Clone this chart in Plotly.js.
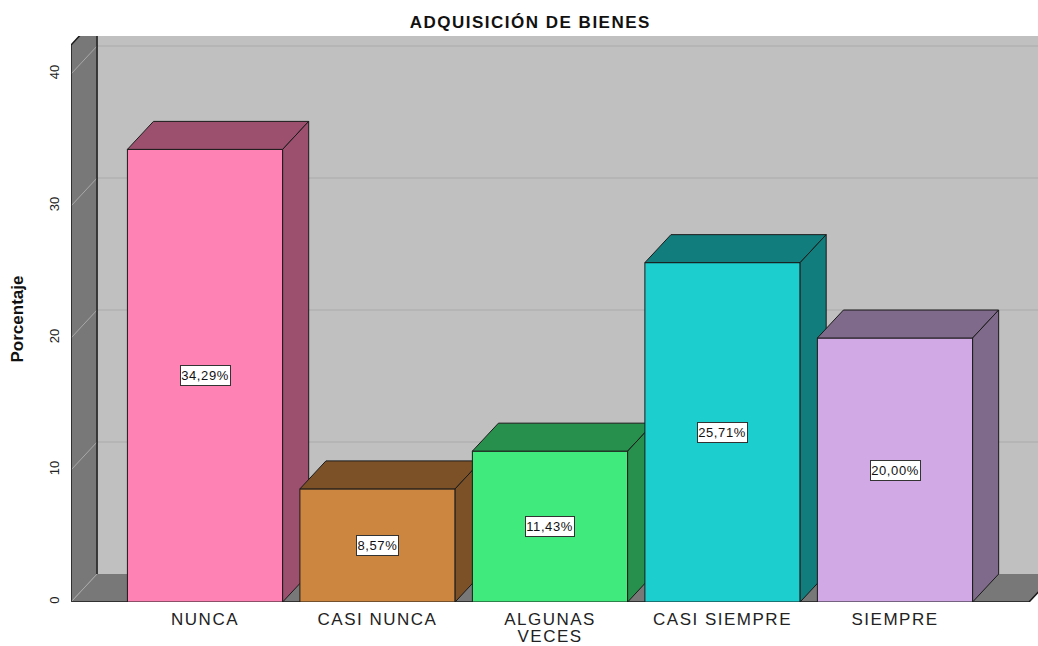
<!DOCTYPE html>
<html>
<head>
<meta charset="utf-8">
<script src="https://cdn.plot.ly/plotly-3.0.1.min.js"></script>
<style>
  html, body { margin: 0; padding: 0; background: #ffffff; }
  #chart { width: 1038px; height: 646px; }
  #chart .xtick text { letter-spacing: 1.5px; }
  #chart .gtitle { letter-spacing: 1.5px; }
  #chart .annotation-text { letter-spacing: 0.6px; }
</style>
</head>
<body>
<div id="chart"></div>
<script>
// ---- data ----
const categories = ['NUNCA', 'CASI NUNCA', 'ALGUNAS<br>VECES', 'CASI SIEMPRE', 'SIEMPRE'];
const percentages = [34.29, 8.57, 11.43, 25.71, 20.00];
const frontColors = ['#FF82B4', '#CD863F', '#41EA7D', '#1CCECE', '#D0A9E5'];
const shadeColors = ['#9C506E', '#7C5128', '#27904C', '#117D7D', '#7F6A8B'];
const yTickValues = [0, 10, 20, 30, 40];

// ---- geometry (axis units) ----
const BAR_W = 0.9;          // bar width in category units
const DX = 0.151;           // depth offset along x
const DY = 2.12;            // depth offset along y
const X_MIN = -0.777, X_MAX = 4.829;
const Y_MAX = 42.88;
const WALL_TOP = 42.2;
const FLOOR_PAD = 0.327;
const floorLeft = X_MIN;
const floorRight = (categories.length - 1) + BAR_W / 2 + FLOOR_PAD;

const traces = [];
function poly(xs, ys, fill) {
  traces.push({
    type: 'scatter', mode: 'lines', fill: 'toself',
    x: xs.concat([xs[0]]), y: ys.concat([ys[0]]),
    fillcolor: fill, line: { color: '#1a1a1a', width: 1 },
    hoverinfo: 'skip', showlegend: false
  });
}
const font = 'Liberation Sans, Arial, sans-serif';
const annotations = [];
percentages.forEach((v, i) => {
  const x0 = i - BAR_W / 2, x1 = i + BAR_W / 2;
  poly([x0, x1, x1, x0], [0, 0, v, v], frontColors[i]);                          // front
  poly([x0, x1, x1 + DX, x0 + DX], [v, v, v + DY, v + DY], shadeColors[i]);      // top
  poly([x1, x1 + DX, x1 + DX, x1], [0, DY, v + DY, v], shadeColors[i]);          // side
  annotations.push({
    x: i, y: v / 2, xref: 'x', yref: 'y',
    text: v.toFixed(2).replace('.', ',') + '%',
    showarrow: false, bgcolor: '#ffffff', bordercolor: '#333333',
    borderwidth: 1, borderpad: 2,
    font: { family: font, size: 13, color: '#111111' }
  });
});

// ---- walls / floor / grid as shapes ----
const shapes = [];
shapes.push({ type: 'rect', xref: 'x', yref: 'y', layer: 'below',
  x0: X_MIN + DX, x1: X_MAX + 1, y0: DY, y1: Y_MAX + 5,
  fillcolor: '#C0C0C0', line: { width: 0 } });
yTickValues.slice(1).forEach(v => {
  shapes.push({ type: 'line', xref: 'x', yref: 'y', layer: 'below',
    x0: X_MIN + DX, x1: X_MAX + 1, y0: v + DY, y1: v + DY,
    line: { color: '#B2B2B2', width: 1.5 } });
});
shapes.push({ type: 'path', xref: 'x', yref: 'y', layer: 'below',
  path: `M ${floorLeft} 0 L ${floorRight} 0 L ${floorRight + DX} ${DY} L ${floorLeft + DX} ${DY} Z`,
  fillcolor: '#787878', line: { width: 0 } });
shapes.push({ type: 'path', xref: 'x', yref: 'y', layer: 'below',
  path: `M ${floorLeft} 0 L ${floorRight} 0 L ${floorRight + DX} ${DY}`,
  line: { color: '#1a1a1a', width: 1.5 } });
shapes.push({ type: 'path', xref: 'x', yref: 'y', layer: 'below',
  path: `M ${X_MIN} 0 L ${X_MIN} ${WALL_TOP} L ${X_MIN + DX} ${WALL_TOP + DY} L ${X_MIN + DX} ${DY} Z`,
  fillcolor: '#787878', line: { width: 0 } });
yTickValues.forEach(v => {
  shapes.push({ type: 'line', xref: 'x', yref: 'y', layer: 'below',
    x0: X_MIN, x1: X_MIN + DX, y0: v, y1: v + DY,
    line: { color: '#A8A8A8', width: 1 } });
});
shapes.push({ type: 'path', xref: 'x', yref: 'y', layer: 'below',
  path: `M ${X_MIN} 0 L ${X_MIN} ${WALL_TOP} L ${X_MIN + DX} ${WALL_TOP + DY}`,
  line: { color: '#1a1a1a', width: 1.5 } });
shapes.push({ type: 'line', xref: 'x', yref: 'y', layer: 'below',
  x0: X_MIN + DX, x1: X_MIN + DX, y0: DY, y1: Y_MAX + 5,
  line: { color: '#1a1a1a', width: 1.5 } });

const layout = {
  width: 1038, height: 646,
  margin: { l: 71, r: 0, t: 36, b: 44 },
  paper_bgcolor: '#ffffff', plot_bgcolor: '#ffffff',
  showlegend: false,
  title: {
    text: '<b>ADQUISICIÓN DE BIENES</b>',
    font: { family: font, size: 17, color: '#111111' },
    xref: 'paper', x: 0.475, xanchor: 'center',
    yref: 'container', y: 1 - 22 / 646, yanchor: 'middle'
  },
  xaxis: {
    range: [X_MIN, X_MAX], showgrid: false, zeroline: false, showline: false,
    tickmode: 'array', tickvals: categories.map((c, i) => i), ticktext: categories,
    ticks: '', ticklabelstandoff: 5,
    tickfont: { family: font, size: 17, color: '#222222' },
    fixedrange: true
  },
  yaxis: {
    range: [0, Y_MAX], showgrid: false, zeroline: false, showline: false,
    tickmode: 'array', tickvals: yTickValues, ticktext: yTickValues.map(String),
    ticks: '', tickangle: -90, ticklabelstandoff: 8,
    tickfont: { family: font, size: 13, color: '#222222' },
    title: { text: '<b>Porcentaje</b>', font: { family: font, size: 17, color: '#111111' }, standoff: 19 },
    fixedrange: true
  },
  shapes: shapes,
  annotations: annotations
};

Plotly.newPlot('chart', traces, layout, { displayModeBar: false, staticPlot: true }).then(gd => {
  // tighten the line spacing of the two-line category label
  gd.querySelectorAll('.xtick text').forEach(t => {
    const lines = t.querySelectorAll('tspan.line');
    for (let k = 1; k < lines.length; k++) lines[k].setAttribute('dy', '1.0em');
  });
});
</script>
</body>
</html>
